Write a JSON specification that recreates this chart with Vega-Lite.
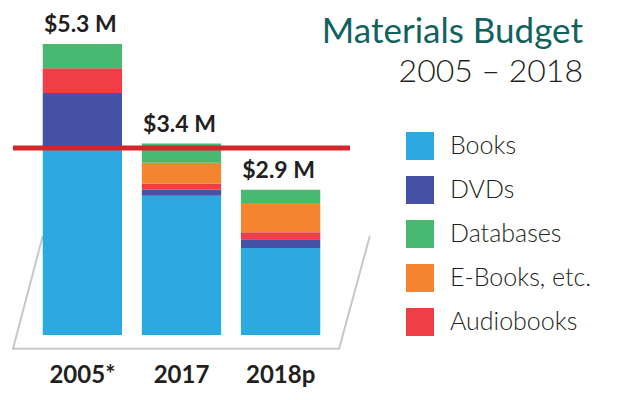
{
  "$schema": "https://vega.github.io/schema/vega-lite/v6.json",
  "autosize": {"type": "none"},
  "width": 337,
  "height": 350,
  "padding": {"left": 13, "top": 0, "right": 280, "bottom": 50},
  "background": "white",
  "config": {"view": {"stroke": null}},
  "title": {
    "text": "Materials Budget",
    "subtitle": "2005 – 2018",
    "anchor": "end",
    "frame": "group",
    "dx": 233,
    "dy": 88,
    "offset": 0,
    "font": "Lato",
    "fontSize": 35,
    "fontWeight": 400,
    "color": "#11625e",
    "subtitleFont": "Lato",
    "subtitleFontSize": 32,
    "subtitleFontWeight": 300,
    "subtitleColor": "#231f20",
    "subtitlePadding": 7
  },
  "datasets": {
    "segments": [
      {"year": "2005*", "category": "Books", "value": 3.38},
      {"year": "2005*", "category": "DVDs", "value": 1.02},
      {"year": "2005*", "category": "Audiobooks", "value": 0.45},
      {"year": "2005*", "category": "E-Books, etc.", "value": 0},
      {"year": "2005*", "category": "Databases", "value": 0.44},
      {"year": "2017", "category": "Books", "value": 2.53},
      {"year": "2017", "category": "DVDs", "value": 0.11},
      {"year": "2017", "category": "Audiobooks", "value": 0.11},
      {"year": "2017", "category": "E-Books, etc.", "value": 0.38},
      {"year": "2017", "category": "Databases", "value": 0.35},
      {"year": "2018p", "category": "Books", "value": 1.58},
      {"year": "2018p", "category": "DVDs", "value": 0.16},
      {"year": "2018p", "category": "Audiobooks", "value": 0.13},
      {"year": "2018p", "category": "E-Books, etc.", "value": 0.53},
      {"year": "2018p", "category": "Databases", "value": 0.24}
    ],
    "totals": [
      {"year": "2005*", "label": "$5.3 M"},
      {"year": "2017", "label": "$3.4 M"},
      {"year": "2018p", "label": "$2.9 M"}
    ],
    "budgetLine": [
      {"level": 3.4}
    ],
    "floor": [
      {"pt": 1, "fx": -0.4, "fy": 1.8},
      {"pt": 2, "fx": -0.7, "fy": -0.25},
      {"pt": 3, "fx": 2.59, "fy": -0.25},
      {"pt": 4, "fx": 2.9, "fy": 1.8}
    ]
  },
  "layer": [
    {
      "data": {"name": "floor"},
      "mark": {"type": "line", "color": "#c8c8c8", "strokeWidth": 2},
      "encoding": {
        "x": {"field": "fx", "type": "quantitative", "scale": {"domain": [-0.7, 2.7], "nice": false, "zero": false}, "axis": null},
        "y": {"field": "fy", "type": "quantitative", "scale": {"domain": [-0.2727, 6.0909], "nice": false, "zero": false}, "axis": null},
        "order": {"field": "pt"}
      }
    },
    {
      "layer": [
        {
          "data": {"name": "segments"},
          "transform": [
            {"calculate": "indexof(['Books','DVDs','Audiobooks','E-Books, etc.','Databases'], datum.category)", "as": "stackOrder"}
          ],
          "mark": {"type": "bar"},
          "encoding": {
            "x": {
              "field": "year", "type": "nominal",
              "scale": {"domain": ["2005*", "2017", "2018p"], "paddingInner": 0.2, "paddingOuter": 0.3},
              "axis": {"title": null, "domain": false, "ticks": false, "tickSize": 0, "labelAngle": 0, "labelFont": "Lato", "labelFontSize": 24, "labelFontWeight": "bold", "labelColor": "#231f20", "labelPadding": 13}
            },
            "y": {"field": "value", "type": "quantitative", "stack": "zero", "scale": {"domain": [-0.2727, 6.0909], "nice": false, "zero": false}, "axis": null},
            "color": {
              "field": "category", "type": "nominal",
              "scale": {
                "domain": ["Books", "DVDs", "Databases", "E-Books, etc.", "Audiobooks"],
                "range": ["#2ca9e1", "#4552a5", "#48b873", "#f5842f", "#ef3e46"]
              },
              "legend": {
                "title": null,
                "orient": "none",
                "legendX": 393,
                "legendY": 132,
                "padding": 0,
                "symbolType": "square",
                "symbolSize": 784,
                "symbolStrokeWidth": 0,
                "symbolOpacity": 1,
                "labelFont": "Lato",
                "labelFontSize": 25,
                "labelFontWeight": 300,
                "labelColor": "#231f20",
                "labelOffset": 16,
                "rowPadding": 16,
                "labelLimit": 300,
                "encode": {
                  "symbols": {
                    "update": {
                      "fill": [
                        {"test": "datum.label === 'DVDs'", "value": "#243f98"},
                        {"scale": "color", "field": "value"}
                      ]
                    }
                  }
                }
              }
            },
            "order": {"field": "stackOrder", "type": "quantitative"}
          }
        },
        {
          "data": {"name": "budgetLine"},
          "mark": {"type": "rule", "color": "#d4252b", "strokeWidth": 5},
          "encoding": {"y": {"field": "level", "type": "quantitative"}}
        },
        {
          "data": {"name": "segments"},
          "transform": [
            {"aggregate": [{"op": "sum", "field": "value", "as": "total"}], "groupby": ["year"]},
            {"lookup": "year", "from": {"data": {"name": "totals"}, "key": "year", "fields": ["label"]}}
          ],
          "mark": {"type": "text", "font": "Lato", "fontSize": 23, "fontWeight": "bold", "color": "#231f20", "baseline": "alphabetic", "dy": -12, "dx": -2},
          "encoding": {
            "x": {"field": "year", "type": "nominal"},
            "y": {"field": "total", "type": "quantitative"},
            "text": {"field": "label"}
          }
        }
      ]
    }
  ],
  "resolve": {"scale": {"x": "independent"}, "axis": {"x": "independent"}}
}
